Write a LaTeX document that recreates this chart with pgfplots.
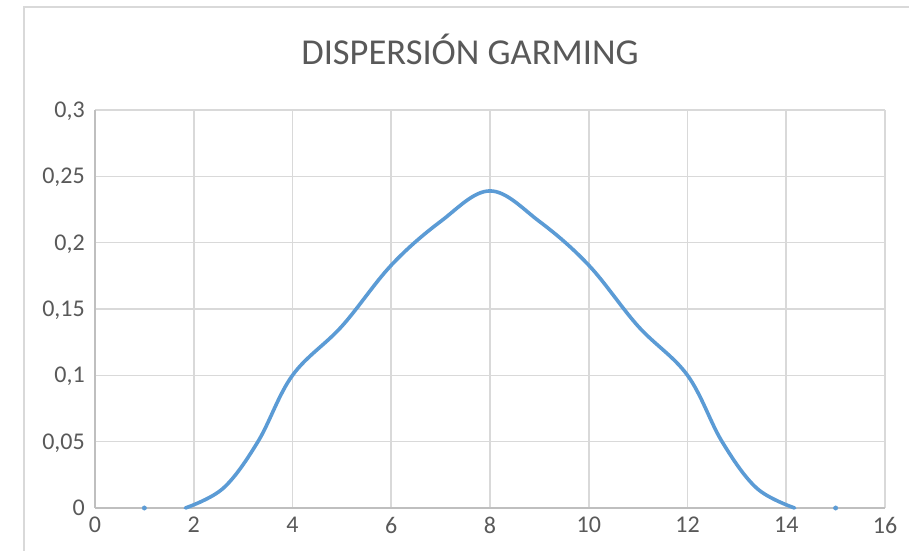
\documentclass[border=0pt]{standalone}
\usepackage{pgfplots}
\pgfplotsset{compat=1.18}
\usepackage{fontspec}
\setmainfont{Carlito}
\definecolor{exblue}{HTML}{5B9BD5}
\definecolor{exgrid}{HTML}{D9D9D9}
\definecolor{exaxis}{HTML}{BFBFBF}
\definecolor{extext}{HTML}{595959}
\begin{document}
\begin{tikzpicture}
\useasboundingbox (0,0) rectangle (909bp,551bp);
\fill[white] (0,0) rectangle (909bp,551bp);
\draw[exgrid, line width=1.8bp] (24bp,-20bp) -- (24bp,544bp) -- (930bp,544bp);
\node[anchor=base, font=\fontsize{36.5bp}{40bp}\selectfont, text=extext, inner sep=0pt] at (470bp,486bp) {DISPERSIÓN GARMING};
\begin{axis}[
  at={(95bp,43bp)}, anchor=south west,
  scale only axis, width=790bp, height=398bp,
  xmin=0, xmax=16, ymin=0, ymax=0.3,
  xtick={0,2,...,16},
  ytick={0,0.05,0.1,0.15,0.2,0.25,0.3},
  yticklabels={0,{0,05},{0,1},{0,15},{0,2},{0,25},{0,3}},
  /pgf/number format/assume math mode=true,
  major tick length=0pt,
  grid=major,
  grid style={exgrid, line width=1.6bp},
  axis line style={exaxis, line width=1.6bp},
  axis x line*=bottom, axis y line*=left,
  xticklabel style={font=\fontsize{24bp}{28bp}\selectfont, text=extext, anchor=north, inner sep=0pt, yshift=-9bp},
  yticklabel style={font=\fontsize{24bp}{28bp}\selectfont, text=extext, anchor=base east, inner sep=0pt, xshift=-10bp, yshift=-7.5bp},
  clip=false,
]
\addplot[exblue, line width=3.6bp, smooth, tension=0.6, line cap=round] coordinates {
  (1.83,0) (2.6,0.015) (3.3,0.05) (4,0.1) (5,0.137)
  (6,0.183) (7,0.216) (8,0.239)
  (9,0.216) (10,0.183) (11,0.137)
  (12,0.1) (12.7,0.05) (13.4,0.015) (14.17,0)
};
\addplot[only marks, mark=*, mark size=2.2bp, exblue] coordinates {(1,0) (15,0)};
\end{axis}
\end{tikzpicture}
\end{document}
